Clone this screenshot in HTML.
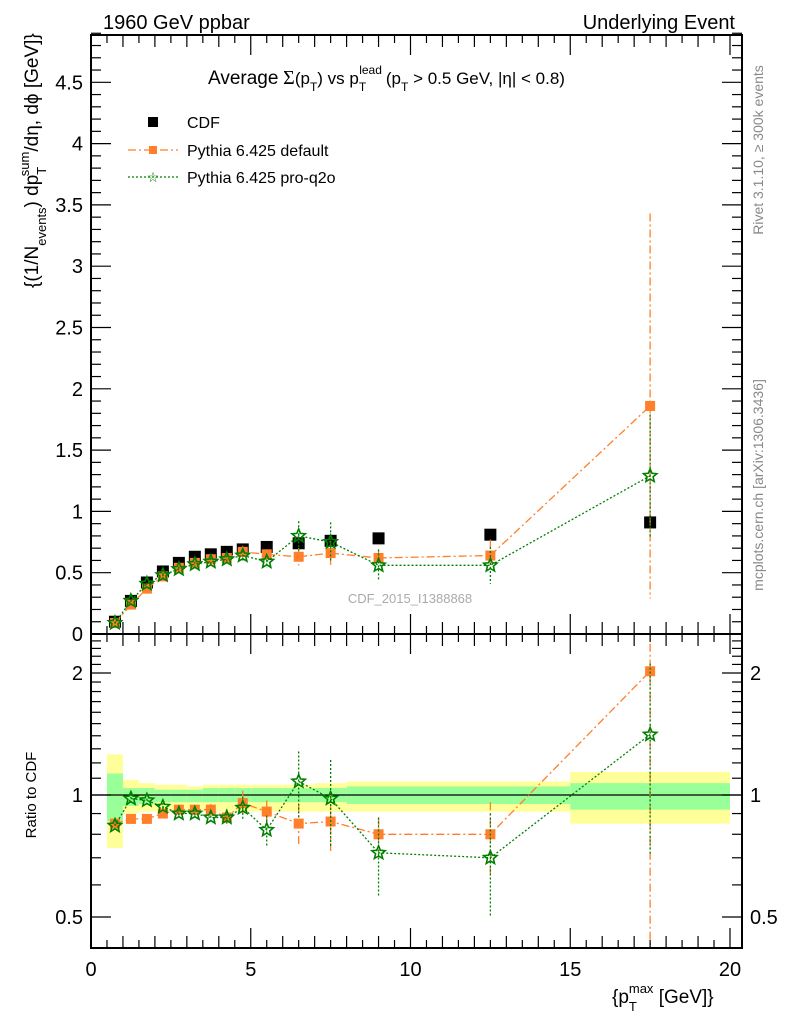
<!DOCTYPE html>
<html><head><meta charset="utf-8">
<style>
html,body{margin:0;padding:0;background:#fff;}
svg{display:block;font-family:"Liberation Sans",Arial,sans-serif;}
</style></head>
<body>
<svg id="chart" width="786" height="1024" viewBox="0 0 786 1024">
<text x="103" y="29" font-size="20">1960 GeV ppbar</text>
<text x="735" y="29" font-size="20" text-anchor="end">Underlying Event</text>
<text x="208" y="84" font-size="17" xml:space="preserve"><tspan font-size="19">Average</tspan> <tspan font-family="Liberation Serif,serif" font-size="20">Σ</tspan>(p<tspan font-size="12" dy="7">T</tspan><tspan dy="-7">) vs p</tspan><tspan font-size="12" dy="7">T</tspan><tspan font-size="12" dx="-7" dy="-17">lead</tspan><tspan dy="10" dx="4">(p</tspan><tspan font-size="12" dy="7">T</tspan><tspan dy="-7"> &gt; 0.5 GeV, |η| &lt; 0.8)</tspan></text>
<g id="legend" font-size="16">
<rect x="148" y="117" width="10" height="10" fill="#000"/>
<text x="187" y="128">CDF</text>
<line x1="128" y1="150" x2="178" y2="150" stroke="#ff7f2a" stroke-width="1.2" stroke-dasharray="8,3,2,3"/>
<rect x="149" y="146" width="8" height="8" fill="#ff7f2a"/>
<text x="187" y="156">Pythia 6.425 default</text>
<line x1="128" y1="177" x2="178" y2="177" stroke="#008000" stroke-width="1.2" stroke-dasharray="2,2"/>
<text x="153" y="182" font-size="14" fill="#008000" text-anchor="middle">☆</text>
<text x="187" y="183">Pythia 6.425 pro-q2o</text>
</g>
<text x="410" y="603" font-size="13" fill="#aaa" text-anchor="middle">CDF_2015_I1388868</text>
<text transform="translate(763,150) rotate(-90)" font-size="14" fill="#888" text-anchor="middle">Rivet 3.1.10, ≥ 300k events</text>
<text transform="translate(763,485) rotate(-90)" font-size="14" fill="#888" text-anchor="middle">mcplots.cern.ch [arXiv:1306.3436]</text>
<text transform="translate(38,288) rotate(-90)" font-size="19" xml:space="preserve">{(1/N<tspan font-size="13" dy="8">events</tspan><tspan dy="-8">) dp</tspan><tspan font-size="13" dy="8">T</tspan><tspan font-size="13" dx="-8" dy="-17">sum</tspan><tspan dy="9">/dη, dϕ [GeV]}</tspan></text>
<text transform="translate(36,795) rotate(-90)" font-size="15" text-anchor="middle">Ratio to CDF</text>
<text x="612" y="1003" font-size="19" xml:space="preserve">{p<tspan font-size="13" dy="8">T</tspan><tspan font-size="13" dx="-8" dy="-18">max</tspan><tspan dy="10"> [GeV]}</tspan></text>
<g id="plot"></g>
</svg>
<script>
const xs=[0.75,1.25,1.75,2.25,2.75,3.25,3.75,4.25,4.75,5.5,6.5,7.5,9,12.5,17.5];
const cdfVals=[0.10,0.27,0.42,0.51,0.58,0.63,0.65,0.67,0.69,0.71,0.74,0.76,0.78,0.81,0.91];
const defVals=[0.09,0.24,0.37,0.47,0.54,0.58,0.61,0.62,0.67,0.65,0.63,0.66,0.62,0.64,1.86];
const defErr=[0.01,0.01,0.01,0.01,0.01,0.01,0.02,0.03,0.05,0.04,0.07,0.10,0.06,0.13,1.57];
const q2oVals=[0.09,0.27,0.41,0.48,0.53,0.57,0.59,0.61,0.64,0.59,0.80,0.75,0.56,0.56,1.29];
const q2oErr=[0.01,0.01,0.01,0.02,0.02,0.02,0.03,0.03,0.04,0.05,0.12,0.16,0.13,0.15,0.5];
const defRatio=[0.85,0.873,0.873,0.90,0.92,0.92,0.92,0.88,0.955,0.91,0.85,0.86,0.80,0.80,2.02];
const defRatioErr=[0.01,0.01,0.01,0.01,0.01,0.02,0.03,0.04,0.07,0.06,0.10,0.14,0.08,0.16,1.7];
const q2oRatio=[0.84,0.98,0.97,0.935,0.90,0.90,0.88,0.88,0.93,0.82,1.08,0.98,0.72,0.70,1.41];
const q2oRatioErr=[0.01,0.01,0.01,0.02,0.02,0.02,0.03,0.04,0.06,0.07,0.2,0.24,0.16,0.2,0.7];
const binEdges=[0.5,1,1.5,2,2.5,3,3.5,4,4.5,5,6,7,8,10,15,20];
const yelLo=[0.74,0.90,0.91,0.91,0.91,0.92,0.91,0.91,0.91,0.91,0.91,0.91,0.91,0.91,0.85];
const yelHi=[1.26,1.09,1.07,1.06,1.06,1.05,1.06,1.06,1.06,1.06,1.06,1.07,1.08,1.08,1.14];
const grnLo=[0.86,0.94,0.95,0.96,0.96,0.96,0.96,0.96,0.96,0.96,0.96,0.96,0.95,0.95,0.92];
const grnHi=[1.13,1.04,1.04,1.03,1.03,1.03,1.04,1.04,1.04,1.04,1.04,1.04,1.05,1.05,1.07];
const mainTicks=[0,0.5,1,1.5,2,2.5,3,3.5,4,4.5];
const mainTickLabels=["0","0.5","1","1.5","2","2.5","3","3.5","4","4.5"];
const ratioTicks=[0.5,1,2];
const ratioTickLabels=["0.5","1","2"];
const xTicks=[0,5,10,15,20];
const xTickLabels=["0","5","10","15","20"];

const L=91,R=742,T=35,MB=634,RB=948;
const X=v=>L+v*31.95;
const Y=v=>MB-v*122.6;
const RY=v=>795-Math.log2(v)*122;
const NS="http://www.w3.org/2000/svg";
const g=document.getElementById('plot');
function el(tag,attrs,parent){const e=document.createElementNS(NS,tag);for(const k in attrs)e.setAttribute(k,attrs[k]);(parent||g).appendChild(e);return e;}
const clipD=el('defs',{});
const c1=el('clipPath',{id:'cm'},clipD);el('rect',{x:L,y:T,width:R-L,height:MB-T},c1);
const c2=el('clipPath',{id:'cr'},clipD);el('rect',{x:L,y:MB,width:R-L,height:RB-MB},c2);
const gm=el('g',{'clip-path':'url(#cm)'});
const gr=el('g',{'clip-path':'url(#cr)'});

for(let i=0;i<yelLo.length;i++){
 const y=el('rect',{x:X(binEdges[i]),y:RY(yelHi[i]),width:X(binEdges[i+1])-X(binEdges[i]),height:RY(yelLo[i])-RY(yelHi[i]),fill:'#ffff99'},gr);
 
 
 const gg=el('rect',{x:X(binEdges[i]),y:RY(grnHi[i]),width:X(binEdges[i+1])-X(binEdges[i]),height:RY(grnLo[i])-RY(grnHi[i]),fill:'#99ff99'},gr);
 
 
}
el('line',{x1:L,x2:R,y1:RY(1),y2:RY(1),stroke:'#000','stroke-width':1.2},gr);

function star(cx,cy,r,parent){let p='';for(let k=0;k<10;k++){const a=-Math.PI/2+k*Math.PI/5;const rr=k%2?r*0.45:r;p+=(k?'L':'M')+(cx+rr*Math.cos(a)).toFixed(1)+','+(cy+rr*Math.sin(a)).toFixed(1);}return el('path',{d:p+'Z',fill:'none',stroke:'#008000','stroke-width':1.6},parent);}

function series(par,yf,vals,errs,color,dash,kind,name){
 let d='';vals.forEach((v,i)=>{d+=(i?'L':'M')+X(xs[i]).toFixed(1)+','+yf(v).toFixed(1);});
 const ln=el('path',{d:d,fill:'none',stroke:color,'stroke-width':1.3,'stroke-dasharray':dash},par);
 
 
 vals.forEach((v,i)=>{
  const lo=Math.max(v-errs[i],0.001);
  el('line',{x1:X(xs[i]),x2:X(xs[i]),y1:yf(v+errs[i]),y2:yf(lo),stroke:color,'stroke-width':1.3,'stroke-dasharray':dash},par);
  let m;
  if(kind==='sq'){m=el('rect',{x:X(xs[i])-5,y:yf(v)-5,width:10,height:10,fill:color},par);}
  else{m=star(X(xs[i]),yf(v),7,par);}
  
  
 });
}
cdfVals.forEach((v,i)=>{
 const m=el('rect',{x:X(xs[i])-6,y:Y(v)-6,width:12,height:12,fill:'#000'},gm);
 
 
});
series(gm,Y,defVals,defErr,'#ff7f2a','8,3,2,3','sq','pythia-default');
series(gm,Y,q2oVals,q2oErr,'#008000','2,2','star','pythia-q2o');
series(gr,RY,defRatio,defRatioErr,'#ff7f2a','8,3,2,3','sq','ratio-default');
series(gr,RY,q2oRatio,q2oRatioErr,'#008000','2,2','star','ratio-q2o');

const f1=el('rect',{x:L,y:T,width:R-L,height:MB-T,fill:'none',stroke:'#000','stroke-width':2});


const f2=el('rect',{x:L,y:MB,width:R-L,height:RB-MB,fill:'none',stroke:'#000','stroke-width':2});


for(let v=0;v<=4.9;v+=0.1){const maj=Math.abs(v*2-Math.round(v*2))<1e-6;const y=Y(v);
 el('line',{x1:L,x2:L+(maj?20:10),y1:y,y2:y,stroke:'#000','stroke-width':1.2});
 el('line',{x1:R,x2:R-(maj?20:10),y1:y,y2:y,stroke:'#000','stroke-width':1.2});}
mainTicks.forEach((v,i)=>{const t=el('text',{x:L-8,y:Y(v)+7,'font-size':20,'text-anchor':'end'});t.textContent=mainTickLabels[i];
 
 });
[MB,RB].forEach(base=>{for(let v=0;v<=20.01;v+=0.5){const maj=Math.abs(v/5-Math.round(v/5))<1e-6;const h=maj?20:(Math.abs(v-Math.round(v))<1e-6?12:8);
 el('line',{x1:X(v),x2:X(v),y1:base,y2:base-h,stroke:'#000','stroke-width':1.2});
 if(base===MB) el('line',{x1:X(v),x2:X(v),y1:MB,y2:MB+h,stroke:'#000','stroke-width':1.2});
 if(base===MB) el('line',{x1:X(v),x2:X(v),y1:T,y2:T+h,stroke:'#000','stroke-width':1.2});}});
xTicks.forEach((v,i)=>{const t=el('text',{x:X(v),y:976,'font-size':20,'text-anchor':'middle'});t.textContent=xTickLabels[i];
 
 });
[0.5,0.6,0.7,0.8,0.9,1,1.1,1.2,1.3,1.4,1.5,1.6,1.7,1.8,1.9,2,2.1,2.2,2.3,2.4].forEach(v=>{
 const maj=(v===0.5||v===1||v===2);const y=RY(v);
 el('line',{x1:L,x2:L+(maj?20:10),y1:y,y2:y,stroke:'#000','stroke-width':1.2});
 el('line',{x1:R,x2:R-(maj?20:10),y1:y,y2:y,stroke:'#000','stroke-width':1.2});});
ratioTicks.forEach((v,i)=>{
 const t=el('text',{x:L-8,y:RY(v)+7,'font-size':20,'text-anchor':'end'});t.textContent=ratioTickLabels[i];
 
 
 const t2=el('text',{x:R+8,y:RY(v)+7,'font-size':20});t2.textContent=ratioTickLabels[i];
 
 });
</script>
</body></html>
